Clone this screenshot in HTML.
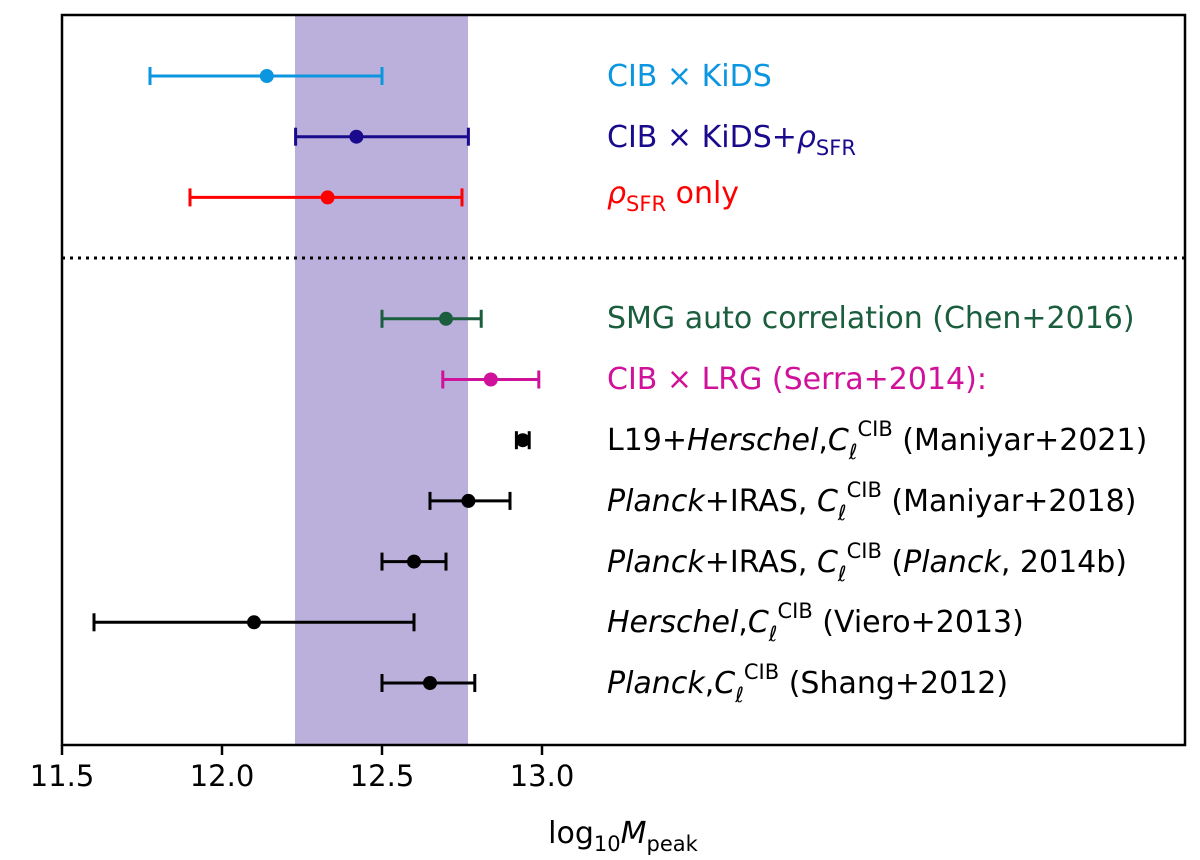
<!DOCTYPE html>
<html><head><meta charset="utf-8"><style>
body{margin:0;background:#fff;}
svg text{font-family:"DejaVu Sans","Liberation Sans",sans-serif;}
</style></head><body>
<svg id="chart" width="1200" height="855" viewBox="0 0 1200 855">
<rect x="295" y="15" width="173" height="730" fill="#bbb0dc" id="band"/>
<line x1="62" y1="258" x2="1185" y2="258" stroke="#000" stroke-width="3" stroke-dasharray="3,5"/>
<g id="marks"></g>
<rect x="62" y="15" width="1123" height="730" fill="none" stroke="#000" stroke-width="2.5"/>
<g id="xaxis"></g>
<text x="623" y="843" font-size="30" text-anchor="middle">log<tspan font-size="21" dy="8">10</tspan><tspan dy="-8" font-style="italic">M</tspan><tspan font-size="21" dy="8">peak</tspan></text>
<g font-size="30">
<text x="607" y="86" fill="#0d96e0">CIB × KiDS</text>
<text x="607" y="147" fill="#1a0a8c">CIB × KiDS+<tspan font-style="italic">ρ</tspan><tspan font-size="21" dy="8">SFR</tspan></text>
<text x="607" y="203" fill="#ff0000"><tspan font-style="italic">ρ</tspan><tspan font-size="21" dy="8">SFR</tspan><tspan dy="-8"> only</tspan></text>
<text x="607" y="328" fill="#1a5e3e">SMG auto correlation (Chen+2016)</text>
<text x="607" y="389" fill="#d0119a">CIB × LRG (Serra+2014):</text>
<text x="607" y="450">L19+<tspan font-style="italic">Herschel</tspan>,<tspan font-style="italic">C</tspan><tspan font-size="21" dy="9" font-style="italic">ℓ</tspan><tspan font-size="21" dy="-23">CIB</tspan><tspan dy="14"> (Maniyar+2021)</tspan></text>
<text x="607" y="511"><tspan font-style="italic">Planck</tspan>+IRAS, <tspan font-style="italic">C</tspan><tspan font-size="21" dy="9" font-style="italic">ℓ</tspan><tspan font-size="21" dy="-23">CIB</tspan><tspan dy="14"> (Maniyar+2018)</tspan></text>
<text x="607" y="572"><tspan font-style="italic">Planck</tspan>+IRAS, <tspan font-style="italic">C</tspan><tspan font-size="21" dy="9" font-style="italic">ℓ</tspan><tspan font-size="21" dy="-23">CIB</tspan><tspan dy="14"> (</tspan><tspan font-style="italic">Planck</tspan>, 2014b)</text>
<text x="607" y="632"><tspan font-style="italic">Herschel</tspan>,<tspan font-style="italic">C</tspan><tspan font-size="21" dy="9" font-style="italic">ℓ</tspan><tspan font-size="21" dy="-23">CIB</tspan><tspan dy="14"> (Viero+2013)</tspan></text>
<text x="607" y="693"><tspan font-style="italic">Planck</tspan>,<tspan font-style="italic">C</tspan><tspan font-size="21" dy="9" font-style="italic">ℓ</tspan><tspan font-size="21" dy="-23">CIB</tspan><tspan dy="14"> (Shang+2012)</tspan></text>
</g>
</svg>
<script>
const names=["cib-kids","cib-kids-rho","rho-only","smg","lrg","l19","maniyar2018","planck2014","viero","shang"];
const rows=[0,1,2,4,5,6,7,8,9,10];
const centers=[12.14,12.42,12.33,12.70,12.84,12.94,12.77,12.60,12.10,12.65];
const lows=[11.775,12.23,11.90,12.50,12.69,12.92,12.65,12.50,11.60,12.50];
const highs=[12.50,12.77,12.75,12.81,12.99,12.96,12.90,12.70,12.60,12.79];
const colors=["#0d96e0","#1a0a8c","#ff0000","#1a5e3e","#d0119a","#000","#000","#000","#000","#000"];
const ticks=[11.5,12.0,12.5,13.0];
const X=v=>62+(v-11.5)*320;
const Y=r=>76+r*60.7;
const NS="http://www.w3.org/2000/svg";
const g=document.getElementById('marks');
function mk(t,a,p){const e=document.createElementNS(NS,t);for(const k in a)e.setAttribute(k,a[k]);p.appendChild(e);return e;}
for(let i=0;i<centers.length;i++){
 const y=Y(rows[i]),c=colors[i];
 const grp=mk('g',{},g);
 
 
 mk('line',{x1:X(lows[i]),x2:X(highs[i]),y1:y,y2:y,stroke:c,'stroke-width':3},grp);
 mk('line',{x1:X(lows[i]),x2:X(lows[i]),y1:y-9,y2:y+9,stroke:c,'stroke-width':3},grp);
 mk('line',{x1:X(highs[i]),x2:X(highs[i]),y1:y-9,y2:y+9,stroke:c,'stroke-width':3},grp);
 const p=mk('circle',{cx:X(centers[i]),cy:y,r:7,fill:c},grp);
 
 
}
const xa=document.getElementById('xaxis');
for(const t of ticks){
 const tl=mk('line',{x1:X(t),x2:X(t),y1:745,y2:755,stroke:'#000','stroke-width':2.5},xa);
 
 
 const tx=mk('text',{x:X(t),y:786,'font-size':29,'text-anchor':'middle'},xa);
 tx.textContent=t.toFixed(1);
 
 
}
</script>
</body></html>
